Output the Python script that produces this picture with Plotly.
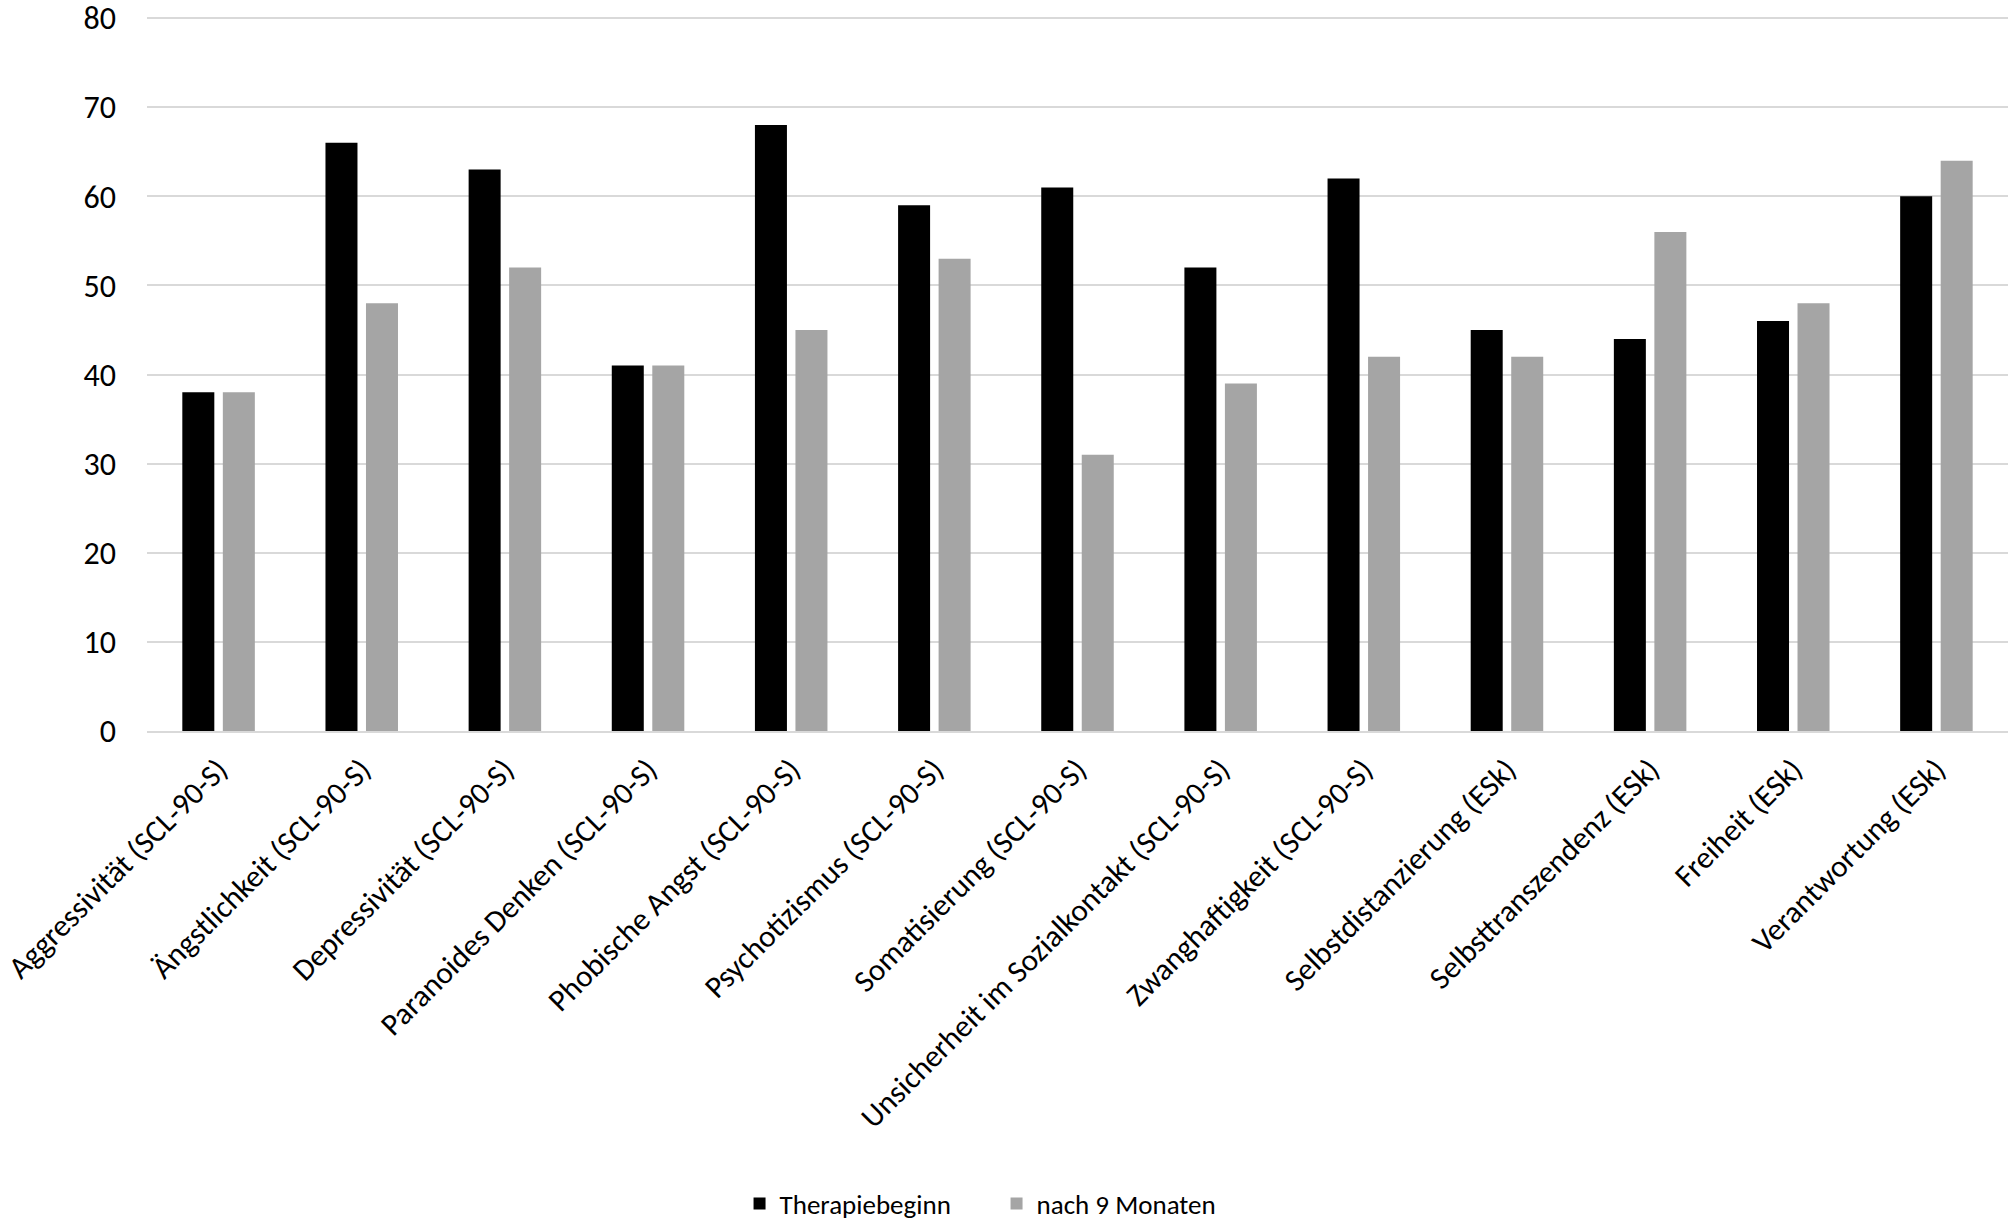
import plotly.graph_objects as go

categories = [
    "Aggressivität (SCL-90-S)",
    "Ängstlichkeit (SCL-90-S)",
    "Depressivität (SCL-90-S)",
    "Paranoides Denken (SCL-90-S)",
    "Phobische Angst (SCL-90-S)",
    "Psychotizismus (SCL-90-S)",
    "Somatisierung (SCL-90-S)",
    "Unsicherheit im Sozialkontakt (SCL-90-S)",
    "Zwanghaftigkeit (SCL-90-S)",
    "Selbstdistanzierung (ESk)",
    "Selbsttranszendenz (ESk)",
    "Freiheit (ESk)",
    "Verantwortung (ESk)",
]
therapiebeginn = [38, 66, 63, 41, 68, 59, 61, 52, 62, 45, 44, 46, 60]
nach_9_monaten = [38, 48, 52, 41, 45, 53, 31, 39, 42, 42, 56, 48, 64]
y_ticks = [0, 10, 20, 30, 40, 50, 60, 70, 80]

FONT = "Carlito, Lato, sans-serif"

fig = go.Figure()
fig.add_trace(go.Bar(name="Therapiebeginn", x=categories, y=therapiebeginn,
                     marker=dict(color="#000000", line=dict(width=0))))
fig.add_trace(go.Bar(name="nach 9 Monaten", x=categories, y=nach_9_monaten,
                     marker=dict(color="#A5A5A5", line=dict(width=0))))

fig.update_layout(
    width=2008, height=1224,
    margin=dict(l=147, r=0, t=17, b=493, autoexpand=False),
    paper_bgcolor="white", plot_bgcolor="white",
    barmode="group", bargap=0.434, bargroupgap=0.21,
    font=dict(family=FONT, size=32, color="#000000"),
    showlegend=True,
    legend=dict(orientation="h", xref="container", yref="container",
                x=0.3683, xanchor="left", y=0.0163, yanchor="middle",
                font=dict(family=FONT, size=27, color="#000000"),
                entrywidth=212, entrywidthmode="pixels", tracegroupgap=0),
)
fig.update_xaxes(
    type="category", tickangle=-45, showgrid=False, showline=True,
    linecolor="#D9D9D9", linewidth=2, ticks="", ticklabelstandoff=6,
    automargin=False,
    tickfont=dict(family=FONT, size=31, color="#000000"),
)
fig.update_yaxes(
    range=[0, 80.12], tickvals=y_ticks, showgrid=True, gridcolor="#D9D9D9",
    gridwidth=2, zeroline=False, showline=False, ticks="",
    ticklabelstandoff=30, automargin=False, ticklabeloverflow="allow",
    tickfont=dict(family=FONT, size=32, color="#000000"),
)

fig.write_html(
    "out.html",
    config={"displayModeBar": False},
    post_script="document.body.style.margin='0';document.body.style.overflow='hidden';",
)
